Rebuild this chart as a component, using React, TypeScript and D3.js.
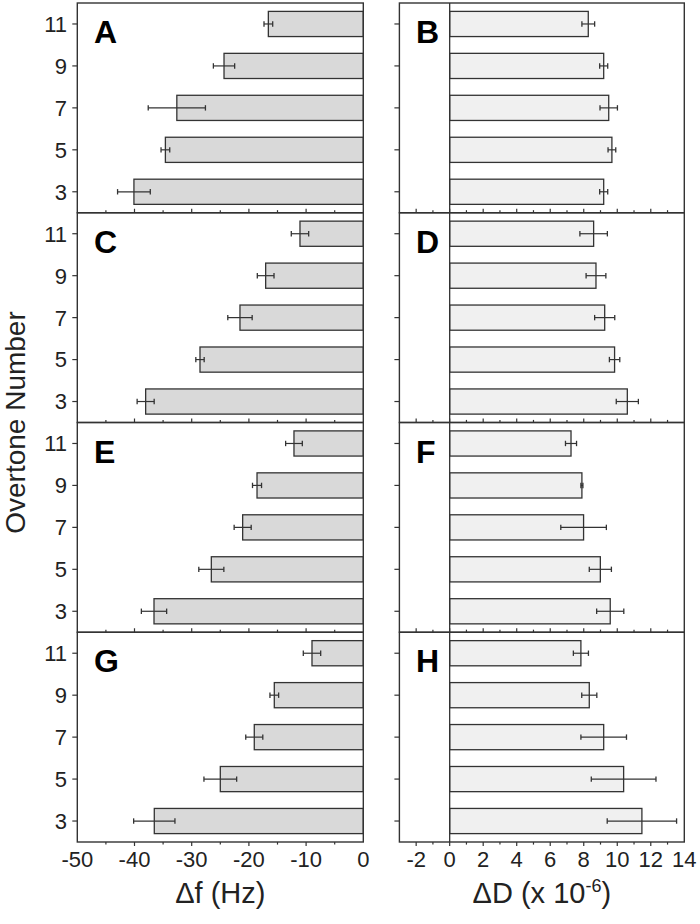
import React from "react";
import * as d3 from "d3";

const overtones = [3, 5, 7, 9, 11];

const dfA = [-40.1, -34.6, -32.6, -24.35, -16.6];
const dfAErr = [2.86, 0.76, 5.0, 1.86, 0.76];
const dfC = [-38.05, -28.55, -21.56, -17.07, -11.07];
const dfCErr = [1.49, 0.73, 2.13, 1.46, 1.52];
const dfE = [-36.59, -26.57, -21.09, -18.58, -12.12];
const dfEErr = [2.21, 2.19, 1.49, 0.79, 1.46];
const dfG = [-36.54, -25.0, -19.06, -15.56, -8.97];
const dfGErr = [3.61, 2.86, 1.49, 0.76, 1.52];

const dDB = [9.19, 9.68, 9.49, 9.19, 8.27];
const dDBErr = [0.24, 0.23, 0.52, 0.24, 0.38];
const dDD = [10.6, 9.84, 9.25, 8.73, 8.59];
const dDDErr = [0.66, 0.31, 0.6, 0.59, 0.82];
const dDF = [9.58, 8.99, 7.99, 7.89, 7.24];
const dDFErr = [0.81, 0.66, 1.36, 0.06, 0.33];
const dDH = [11.47, 10.38, 9.19, 8.33, 7.83];
const dDHErr = [2.07, 1.93, 1.36, 0.45, 0.45];

const leftPanels = [
  { label: "A", values: dfA, errs: dfAErr },
  { label: "C", values: dfC, errs: dfCErr },
  { label: "E", values: dfE, errs: dfEErr },
  { label: "G", values: dfG, errs: dfGErr },
];
const rightPanels = [
  { label: "B", values: dDB, errs: dDBErr },
  { label: "D", values: dDD, errs: dDDErr },
  { label: "F", values: dDF, errs: dDFErr },
  { label: "H", values: dDH, errs: dDHErr },
];

const leftTicks = [-50, -40, -30, -20, -10, 0];
const rightTicks = [-2, 0, 2, 4, 6, 8, 10, 12, 14];

const FONT = "'Liberation Sans', Arial, Helvetica, sans-serif";
const STROKE = "#333";

const W = 700;
const H = 924;
const top0 = 3;
const panelH = 209.75;

const xL = d3.scaleLinear().domain([-50, 0]).range([77.3, 363.3]);
const xR = d3.scaleLinear().domain([-3, 14]).range([399.4, 684.3]);

function Panel({ idx, side, label, values, errs }) {
  const top = top0 + idx * panelH;
  const bottom = top + panelH;
  const y = d3.scaleLinear().domain([2, 12]).range([bottom, top]);
  const x = side === "left" ? xL : xR;
  const [d0, d1] = x.domain();
  const bandH = y(2) - y(3.2);
  const isLast = idx === 3;
  const minorStep = side === "left" ? 5 : 1;
  const majorStep = side === "left" ? 10 : 2;
  const tickVals = d3.range(d0, d1 + 0.001, minorStep).filter((v) => v > d0 && v < d1);
  const dir = isLast ? 1 : -1;
  const fill = side === "left" ? "#d9d9d9" : "#f0f0f0";
  return (
    <g>
      {values.map((v, i) => {
        const o = overtones[i];
        const xa = x(Math.min(0, v));
        const xb = x(Math.max(0, v));
        const yc = y(o);
        const e = errs[i];
        const ex0 = x(v - e);
        const ex1 = x(v + e);
        return (
          <g key={i}>
            <rect
              x={xa}
              y={yc - bandH / 2}
              width={xb - xa}
              height={bandH}
              fill={fill}
              stroke={STROKE}
              strokeWidth={1.3}
            />
            <line x1={ex0} x2={ex1} y1={yc} y2={yc} stroke={STROKE} strokeWidth={1.2} />
            <line x1={ex0} x2={ex0} y1={yc - 2.7} y2={yc + 2.7} stroke={STROKE} strokeWidth={1.3} />
            <line x1={ex1} x2={ex1} y1={yc - 2.7} y2={yc + 2.7} stroke={STROKE} strokeWidth={1.3} />
          </g>
        );
      })}
      {side === "right" && (
        <line x1={x(0)} x2={x(0)} y1={top} y2={bottom} stroke={STROKE} strokeWidth={1.3} />
      )}
      <rect
        x={x(d0)}
        y={top}
        width={x(d1) - x(d0)}
        height={panelH}
        fill="none"
        stroke={STROKE}
        strokeWidth={1.4}
      />
      {overtones.map((o) => (
        <line
          key={"yt" + o}
          x1={x(d0) - 5}
          x2={x(d0)}
          y1={y(o)}
          y2={y(o)}
          stroke={STROKE}
          strokeWidth={1.2}
        />
      ))}
      {side === "left" &&
        overtones.map((o) => (
          <text
            key={"yl" + o}
            x={67}
            y={y(o)}
            dy="0.36em"
            textAnchor="end"
            fontFamily={FONT}
            fontSize={22}
            fill="#222"
          >
            {o}
          </text>
        ))}
      {tickVals.map((v) => {
        const major = Math.abs(v % majorStep) < 1e-6;
        const len = major ? 4 : 2.6;
        return (
          <line
            key={"xt" + v}
            x1={x(v)}
            x2={x(v)}
            y1={bottom}
            y2={bottom + dir * len}
            stroke={STROKE}
            strokeWidth={1.2}
          />
        );
      })}
      <text
        x={side === "left" ? 94 : 416}
        y={top + 40}
        fontFamily={FONT}
        fontWeight="bold"
        fontSize={32}
        fill="#000"
      >
        {label}
      </text>
    </g>
  );
}

export default function App() {
  const axisY = top0 + 4 * panelH;
  return (
    <svg width={W} height={H} style={{ display: "block", position: "absolute", left: 0, top: 0 }}>
      <rect width={W} height={H} fill="#fff" />
      {leftPanels.map((p, i) => (
        <Panel key={p.label} idx={i} side="left" {...p} />
      ))}
      {rightPanels.map((p, i) => (
        <Panel key={p.label} idx={i} side="right" {...p} />
      ))}
      {leftTicks.map((t) => (
        <text
          key={"lt" + t}
          x={xL(t)}
          y={axisY + 25}
          textAnchor="middle"
          fontFamily={FONT}
          fontSize={22}
          fill="#222"
        >
          {t}
        </text>
      ))}
      {rightTicks.map((t) => (
        <text
          key={"rt" + t}
          x={xR(t)}
          y={axisY + 25}
          textAnchor="middle"
          fontFamily={FONT}
          fontSize={22}
          fill="#222"
        >
          {t}
        </text>
      ))}
      <text
        x={(xL(-50) + xL(0)) / 2}
        y={axisY + 61}
        textAnchor="middle"
        fontFamily={FONT}
        fontSize={29}
        fill="#222"
      >
        Δf (Hz)
      </text>
      <text
        x={(xR(-3) + xR(14)) / 2}
        y={axisY + 61}
        textAnchor="middle"
        fontFamily={FONT}
        fontSize={29}
        fill="#222"
      >
        ΔD (x 10
        <tspan fontSize={18} dy={-11}>-6</tspan>
        <tspan dy={11}>)</tspan>
      </text>
      <text
        transform={`translate(25, ${top0 + 2 * panelH}) rotate(-90)`}
        textAnchor="middle"
        fontFamily={FONT}
        fontSize={28}
        fill="#222"
      >
        Overtone Number
      </text>
    </svg>
  );
}
